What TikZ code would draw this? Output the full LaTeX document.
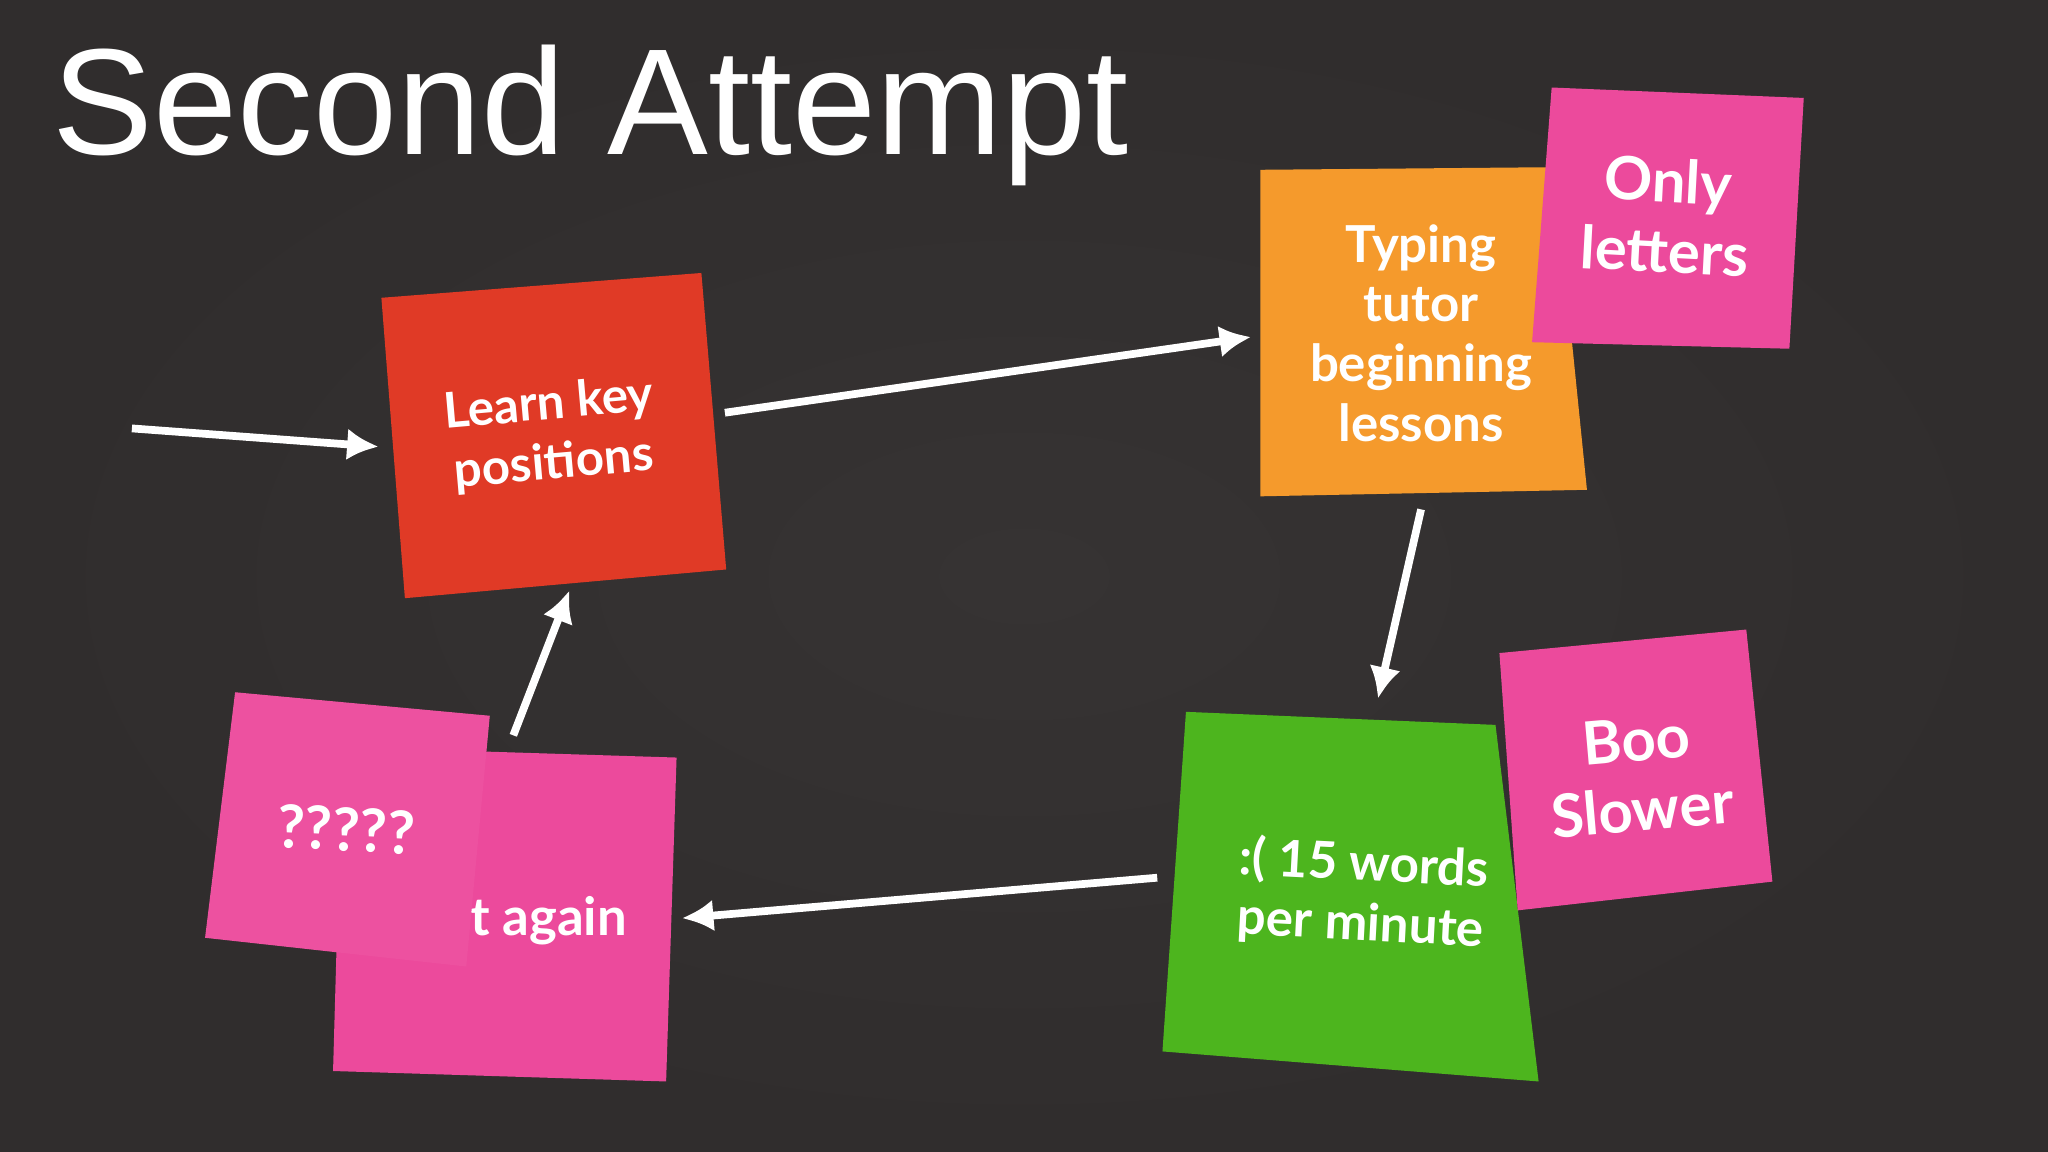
\documentclass[tikz,border=0pt]{standalone}
\usepackage{fontspec}
\setmainfont{Liberation Sans}
\newfontfamily\notefont{Lato}
\usetikzlibrary{arrows.meta}
\definecolor{bg}{HTML}{302D2D}
\definecolor{bgin}{HTML}{363333}
\definecolor{rednote}{HTML}{E03A26}
\definecolor{orangenote}{HTML}{F59A2C}
\definecolor{pinknote}{HTML}{EC4A9C}
\definecolor{greennote}{HTML}{4DB51E}
\begin{document}
\begin{tikzpicture}[x=0.013061cm,y=-0.013061cm,
  notetext/.style={text=white,font=\notefont\bfseries,align=center},
  arr/.style={draw=white,line width=2.2pt,-{Latex[length=9pt,width=9pt]}}]
\fill[inner color=bgin,outer color=bg] (0,0) rectangle (1568,882);
\useasboundingbox (0,0) rectangle (1568,882);
\node[anchor=base west,inner sep=0,text=white,font=\fontsize{43}{50}\selectfont] (title) at (40,118) {Second Attempt};
% notes
\fill[rednote] (292,228) -- (537,209) -- (556,436) -- (310,458) -- cycle;
\node[notetext,rotate=5,font=\notefont\bfseries\fontsize{14}{17}\selectfont] (learn) at (422,333) {Learn key\\positions};
\fill[orangenote] (965,130) -- (1190,128) -- (1215,375) -- (965,380) -- cycle;
\node[notetext,font=\notefont\bfseries\fontsize{14.5}{17}\selectfont] (typing) at (1088,255) {Typing\\tutor\\beginning\\lessons};
\fill[pinknote] (1188,67) -- (1381,75) -- (1370,267) -- (1173,262) -- cycle;
\node[notetext,rotate=-3,font=\notefont\bfseries\fontsize{17}{20}\selectfont] (only) at (1276,165) {Only\\letters};
\fill[greennote] (908,545) -- (1145,555) -- (1178,828) -- (890,805) -- cycle;
\node[notetext,rotate=-3,font=\notefont\bfseries\fontsize{14.5}{17}\selectfont] (green) at (1043,685) {:( 15 words\\per minute};
\fill[pinknote] (1148,500) -- (1337,482) -- (1357,675) -- (1162,697) -- cycle;
\node[notetext,rotate=5,font=\notefont\bfseries\fontsize{17}{20}\selectfont] (boo) at (1255,593) {Boo\\Slower};
\fill[pinknote] (262,572) -- (518,580) -- (510,828) -- (255,820) -- cycle;
\node[notetext,font=\notefont\bfseries\fontsize{15}{18}\selectfont] (again) at (420,705) {t again};
\fill[pinknote!96!white] (180,530) -- (375,548) -- (357,740) -- (157,718) -- cycle;
\node[notetext,rotate=-3,font=\notefont\bfseries\fontsize{17}{20}\selectfont] (q) at (265,635) {?????};
% arrows
\coordinate (s0) at (101,328); \coordinate (e0) at (290,342);
\coordinate (s1) at (555,316); \coordinate (e1) at (958,258);
\coordinate (s2) at (1088,390); \coordinate (e2) at (1055,535);
\coordinate (s3) at (886,672); \coordinate (e3) at (522,703);
\coordinate (s4) at (393,563); \coordinate (e4) at (436,452);
\draw[arr] (s0) -- (e0);
\draw[arr] (s1) -- (e1);
\draw[arr] (s2) -- (e2);
\draw[arr] (s3) -- (e3);
\draw[arr] (s4) -- (e4);
\end{tikzpicture}
\end{document}
